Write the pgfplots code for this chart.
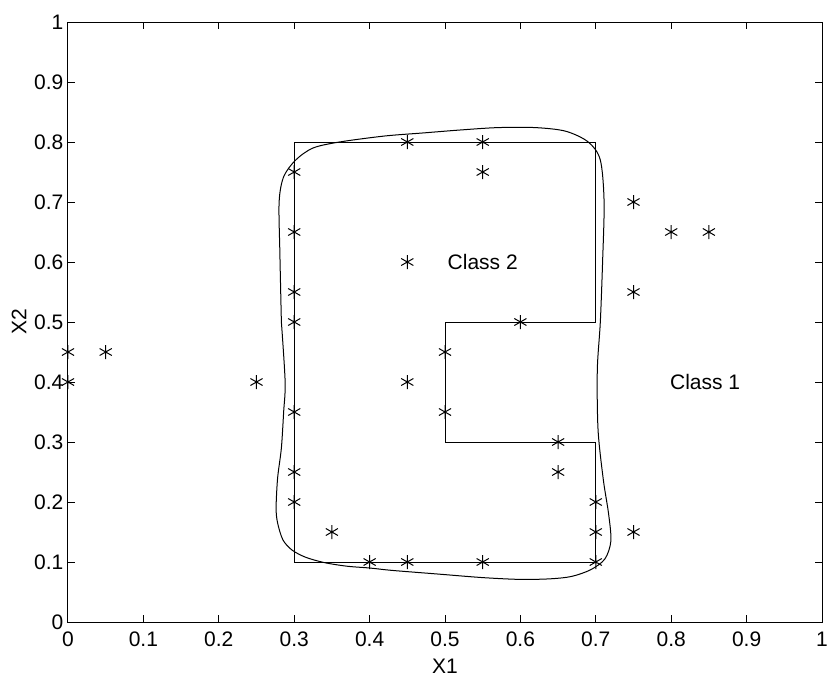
\documentclass[border=0pt]{standalone}
\usepackage{fontspec}
\setmainfont{Liberation Sans}
\usepackage{pgfplots}
\pgfplotsset{compat=1.18}
\begin{document}
\begin{tikzpicture}
\begin{axis}[
  name=ax,
  scale only axis,
  width=377pt, height=300pt,
  xmin=0, xmax=1, ymin=0, ymax=1,
  xtick={0,0.1,0.2,0.3,0.4,0.5,0.6,0.7,0.8,0.9,1},
  ytick={0,0.1,0.2,0.3,0.4,0.5,0.6,0.7,0.8,0.9,1},
  tick align=inside,
  major tick length=3.5pt,
  tick style={black, line width=0.5pt},
  axis line style={line width=0.5pt},
  /pgf/number format/assume math mode=true,
  tick label style={font=\fontsize{10.5}{12}\selectfont},
  label style={font=\fontsize{10.5}{12}\selectfont},
  xlabel={X1}, ylabel={X2},
  xlabel style={yshift=1pt},
  ylabel style={yshift=-3pt},
  xticklabel style={yshift=-1.5pt},
  yticklabel style={xshift=1.2pt},
  clip=false,
]
% decision region (polygon)
\addplot[black, line width=0.5pt] coordinates {
 (0.3,0.1) (0.3,0.8) (0.7,0.8) (0.7,0.5) (0.5,0.5) (0.5,0.3) (0.7,0.3) (0.7,0.1) (0.3,0.1)
};
% learned boundary (smooth curve)
\addplot[black, line width=0.5pt, smooth, tension=0.5] coordinates {
 (0.283,0.50) (0.288,0.40) (0.286,0.35) (0.283,0.29) (0.278,0.24) (0.276,0.19)
 (0.278,0.165) (0.285,0.137) (0.297,0.12) (0.315,0.108) (0.340,0.099) (0.37,0.093)
 (0.40,0.090) (0.43,0.086) (0.49,0.080) (0.55,0.074) (0.60,0.071) (0.64,0.072)
 (0.668,0.076) (0.693,0.087) (0.712,0.105) (0.72,0.135) (0.717,0.18) (0.71,0.237)
 (0.703,0.32) (0.702,0.42) (0.706,0.50) (0.709,0.60) (0.711,0.70) (0.706,0.77)
 (0.69,0.80) (0.66,0.818) (0.62,0.824) (0.57,0.824) (0.52,0.82) (0.47,0.815)
 (0.42,0.81) (0.36,0.80) (0.325,0.79) (0.302,0.77) (0.286,0.742) (0.280,0.70)
 (0.281,0.615) (0.283,0.50)
};
% training points
\addplot[only marks, mark=asterisk, mark size=3.5pt, mark options={line width=0.5pt, black}] coordinates {
 (0,0.45) (0,0.4) (0.05,0.45) (0.25,0.4)
 (0.3,0.75) (0.3,0.65) (0.3,0.55) (0.3,0.5) (0.3,0.35) (0.3,0.25) (0.3,0.2)
 (0.35,0.15) (0.4,0.1) (0.45,0.1) (0.55,0.1)
 (0.45,0.8) (0.55,0.8) (0.55,0.75) (0.45,0.6) (0.45,0.4)
 (0.5,0.45) (0.5,0.35) (0.6,0.5) (0.65,0.3) (0.65,0.25)
 (0.7,0.2) (0.7,0.15) (0.7,0.1) (0.75,0.15)
 (0.75,0.7) (0.75,0.55) (0.8,0.65) (0.85,0.65)
};
\node[font=\fontsize{10.5}{12}\selectfont] at (axis cs:0.55,0.6) {Class 2};
\node[font=\fontsize{10.5}{12}\selectfont] at (axis cs:0.845,0.4) {Class 1};
\end{axis}
\pgfresetboundingbox
\path ([shift={(-34pt,-27.5pt)}]ax.south west) rectangle ([shift={(4pt,11pt)}]ax.north east);
\end{tikzpicture}
\end{document}
